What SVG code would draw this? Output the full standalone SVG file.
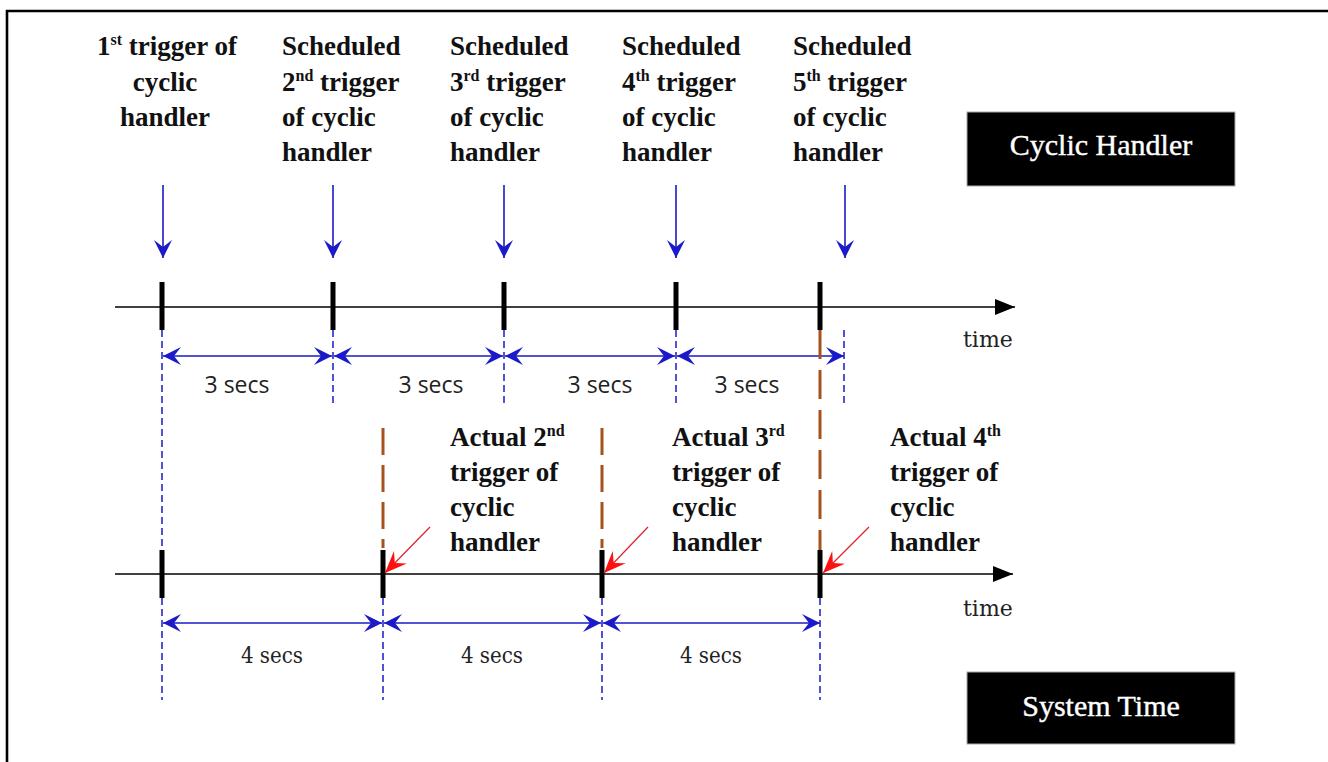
<svg xmlns="http://www.w3.org/2000/svg" width="1328" height="762" viewBox="0 0 1328 762">
<style>
.lbl{font-family:"Liberation Serif","Times New Roman",serif;font-weight:bold;font-size:27px;fill:#111}
.sup{font-size:16px}
.mid{text-anchor:middle}
.sec3{font-family:"Open Sans","DejaVu Sans",sans-serif;font-size:23px;fill:#222;text-anchor:middle}
.sec4{font-family:"DejaVu Serif Condensed","DejaVu Serif",serif;font-size:22px;fill:#222;text-anchor:middle}
.time{font-family:"DejaVu Serif",serif;font-size:22px;fill:#222}
.box{fill:#000;stroke:#aaa;stroke-width:1}
.boxt{font-family:"Liberation Serif","Times New Roman",serif;font-size:30px;fill:#fff;text-anchor:middle;stroke:#fff;stroke-width:0.4}
.axis{stroke:#000;stroke-width:1.6;fill:none}
.tick{stroke:#000;stroke-width:5}
.bdash{stroke:#1a1ac8;stroke-width:1.5;stroke-dasharray:7 4;fill:none}
.brown{stroke:#a5521f;stroke-width:3;fill:none}
.blue{stroke:#1a1ac8;stroke-width:1.6;fill:none}
.red{stroke:#e0202a;stroke-width:1.2;fill:none}
</style>
<defs>
<marker id="ab" viewBox="0 0 18 18" refX="18" refY="9" markerWidth="18" markerHeight="18" markerUnits="userSpaceOnUse" orient="auto-start-reverse"><path d="M0,0 L18,9 L0,18 L7,9 Z" fill="#1a1ac8"/></marker>
<marker id="ar" viewBox="0 0 22 18" refX="22" refY="9" markerWidth="22" markerHeight="18" markerUnits="userSpaceOnUse" orient="auto"><path d="M0,0 L22,9 L0,18 L8,9 Z" fill="#ff1010"/></marker>
<marker id="ak" viewBox="0 0 20 16" refX="20" refY="8" markerWidth="20" markerHeight="16" markerUnits="userSpaceOnUse" orient="auto"><path d="M0,0 L20,8 L0,16 Z" fill="#000"/></marker>
</defs>
<rect width="1328" height="762" fill="#fff"/>
<path d="M7,762 V11 H1328" fill="none" stroke="#000" stroke-width="2.6"/>

<g id="label-1st">
<text class="lbl mid" x="167" y="55">1<tspan class="sup" dy="-10">st</tspan><tspan dy="10"> trigger of</tspan></text>
<text class="lbl mid" x="165" y="91">cyclic</text>
<text class="lbl mid" x="165" y="126">handler</text>
</g>
<g id="label-2nd">
<text class="lbl" x="282" y="55">Scheduled</text>
<text class="lbl" x="282" y="91">2<tspan class="sup" dy="-10">nd</tspan><tspan dy="10"> trigger</tspan></text>
<text class="lbl" x="282" y="126">of cyclic</text>
<text class="lbl" x="282" y="161">handler</text>
</g>
<g id="label-3rd">
<text class="lbl" x="450" y="55">Scheduled</text>
<text class="lbl" x="450" y="91">3<tspan class="sup" dy="-10">rd</tspan><tspan dy="10"> trigger</tspan></text>
<text class="lbl" x="450" y="126">of cyclic</text>
<text class="lbl" x="450" y="161">handler</text>
</g>
<g id="label-4th">
<text class="lbl" x="622" y="55">Scheduled</text>
<text class="lbl" x="622" y="91">4<tspan class="sup" dy="-10">th</tspan><tspan dy="10"> trigger</tspan></text>
<text class="lbl" x="622" y="126">of cyclic</text>
<text class="lbl" x="622" y="161">handler</text>
</g>
<g id="label-5th">
<text class="lbl" x="793" y="55">Scheduled</text>
<text class="lbl" x="793" y="91">5<tspan class="sup" dy="-10">th</tspan><tspan dy="10"> trigger</tspan></text>
<text class="lbl" x="793" y="126">of cyclic</text>
<text class="lbl" x="793" y="161">handler</text>
</g>

<g id="box-cyclic-handler">
<rect class="box" x="967" y="112" width="268" height="74"/>
<text class="boxt" x="1101" y="155">Cyclic Handler</text>
</g>
<g id="box-system-time">
<rect class="box" x="967" y="672" width="268" height="72"/>
<text class="boxt" x="1101" y="716">System Time</text>
</g>

<g id="label-actual-2nd">
<text class="lbl" x="450" y="446">Actual 2<tspan class="sup" dy="-10">nd</tspan></text>
<text class="lbl" x="450" y="481">trigger of</text>
<text class="lbl" x="450" y="516">cyclic</text>
<text class="lbl" x="450" y="551">handler</text>
</g>
<g id="label-actual-3rd">
<text class="lbl" x="672" y="446">Actual 3<tspan class="sup" dy="-10">rd</tspan></text>
<text class="lbl" x="672" y="481">trigger of</text>
<text class="lbl" x="672" y="516">cyclic</text>
<text class="lbl" x="672" y="551">handler</text>
</g>
<g id="label-actual-4th">
<text class="lbl" x="890" y="446">Actual 4<tspan class="sup" dy="-10">th</tspan></text>
<text class="lbl" x="890" y="481">trigger of</text>
<text class="lbl" x="890" y="516">cyclic</text>
<text class="lbl" x="890" y="551">handler</text>
</g>

<g id="timeline-top">
<path class="axis" d="M115,307 H1015" marker-end="url(#ak)"/>
<text class="time" x="963" y="347">time</text>
<path class="tick" d="M162,282 V330 M333,282 V330 M504,282 V330 M676,282 V330 M820,282 V330"/>
</g>
<g id="timeline-bottom">
<path class="axis" d="M115,574 H1013" marker-end="url(#ak)"/>
<text class="time" x="963" y="616">time</text>
<path class="tick" d="M162,550 V598 M383,550 V598 M602,550 V598 M820,550 V598"/>
</g>

<g id="connectors">
<path class="blue" d="M163,185 V258" marker-end="url(#ab)"/>
<path class="blue" d="M333,185 V258" marker-end="url(#ab)"/>
<path class="blue" d="M504,185 V258" marker-end="url(#ab)"/>
<path class="blue" d="M676,185 V258" marker-end="url(#ab)"/>
<path class="blue" d="M845,185 V258" marker-end="url(#ab)"/>

<path class="bdash" d="M162,330 V550 M333,330 V403 M504,330 V403 M676,330 V403 M844,330 V403"/>
<path class="bdash" d="M162,598 V700 M383,598 V700 M602,598 V700 M820,598 V700"/>

<path class="blue" d="M163,356 H332" marker-start="url(#ab)" marker-end="url(#ab)"/>
<path class="blue" d="M334,356 H503" marker-start="url(#ab)" marker-end="url(#ab)"/>
<path class="blue" d="M505,356 H675" marker-start="url(#ab)" marker-end="url(#ab)"/>
<path class="blue" d="M677,356 H844" marker-start="url(#ab)" marker-end="url(#ab)"/>

<path class="blue" d="M163,623 H382" marker-start="url(#ab)" marker-end="url(#ab)"/>
<path class="blue" d="M384,623 H601" marker-start="url(#ab)" marker-end="url(#ab)"/>
<path class="blue" d="M603,623 H820" marker-start="url(#ab)" marker-end="url(#ab)"/>

<path class="brown" d="M820,330 V550" stroke-dasharray="29 11"/>
<path class="brown" d="M383,428 V548" stroke-dasharray="27 10"/>
<path class="brown" d="M602,428 V548" stroke-dasharray="27 10"/>

<path class="red" d="M430,527 L385,573" marker-end="url(#ar)"/>
<path class="red" d="M648,527 L604,573" marker-end="url(#ar)"/>
<path class="red" d="M869,527 L823,573" marker-end="url(#ar)"/>
</g>

<g id="durations">
<text class="sec3" x="237" y="393">3 secs</text>
<text class="sec3" x="431" y="393">3 secs</text>
<text class="sec3" x="600" y="393">3 secs</text>
<text class="sec3" x="747" y="393">3 secs</text>
<text class="sec4" x="272" y="663">4 secs</text>
<text class="sec4" x="492" y="663">4 secs</text>
<text class="sec4" x="711" y="663">4 secs</text>
</g>
</svg>
